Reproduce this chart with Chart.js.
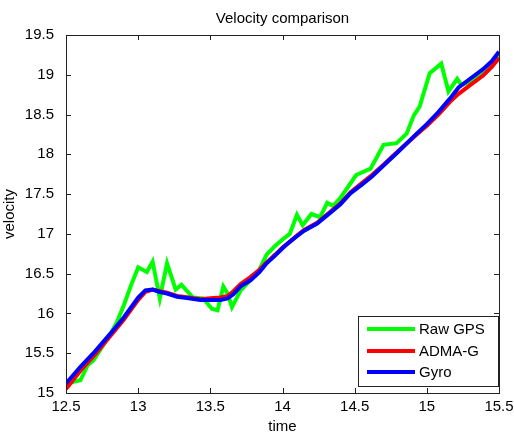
<!DOCTYPE html>
<html>
<head>
<meta charset="utf-8">
<title>Velocity comparison</title>
<script src="https://cdn.jsdelivr.net/npm/chart.js@4.4.7/dist/chart.umd.min.js"></script>
<style>
  html, body { margin: 0; padding: 0; background: #ffffff; }
  #wrap { width: 514px; height: 432px; position: relative; }
</style>
</head>
<body>
<div id="wrap"><canvas id="velocityChart" width="514" height="432"></canvas></div>
<script>
const chartTitle = "Velocity comparison";
const xTitle = "time";
const yTitle = "velocity";

const gpsTime = [12.50, 12.55, 12.60, 12.65, 12.69, 12.75, 12.80, 12.85, 12.90, 12.95, 13.00, 13.06, 13.10, 13.15, 13.20, 13.26, 13.30, 13.38, 13.45, 13.51, 13.55, 13.59, 13.62, 13.65, 13.71, 13.78, 13.84, 13.89, 13.95, 14.00, 14.05, 14.10, 14.14, 14.20, 14.26, 14.31, 14.35, 14.40, 14.45, 14.51, 14.61, 14.70, 14.79, 14.86, 14.91, 14.95, 15.02, 15.10, 15.15, 15.21, 15.24, 15.30, 15.36, 15.42, 15.50];
const gpsVelocity = [15.10, 15.14, 15.16, 15.35, 15.41, 15.58, 15.72, 15.88, 16.10, 16.35, 16.58, 16.52, 16.65, 16.19, 16.63, 16.30, 16.36, 16.20, 16.19, 16.06, 16.04, 16.34, 16.25, 16.08, 16.29, 16.42, 16.55, 16.74, 16.85, 16.93, 17.00, 17.24, 17.11, 17.25, 17.21, 17.39, 17.35, 17.45, 17.58, 17.74, 17.82, 18.12, 18.14, 18.26, 18.49, 18.60, 19.02, 19.14, 18.79, 18.95, 18.87, 18.92, 18.97, 19.05, 19.25];

const refTime = [12.50, 12.60, 12.70, 12.80, 12.90, 13.00, 13.05, 13.10, 13.15, 13.20, 13.27, 13.35, 13.43, 13.50, 13.57, 13.62, 13.66, 13.71, 13.78, 13.84, 13.89, 13.95, 14.00, 14.05, 14.10, 14.15, 14.24, 14.30, 14.40, 14.47, 14.55, 14.62, 14.70, 14.80, 14.93, 15.00, 15.08, 15.16, 15.22, 15.30, 15.39, 15.45, 15.50];
const admaVelocity = [15.05, 15.28, 15.48, 15.70, 15.92, 16.17, 16.27, 16.30, 16.28, 16.26, 16.22, 16.20, 16.18, 16.19, 16.20, 16.22, 16.28, 16.37, 16.46, 16.55, 16.64, 16.74, 16.83, 16.90, 16.98, 17.05, 17.14, 17.23, 17.38, 17.52, 17.64, 17.74, 17.87, 18.04, 18.25, 18.36, 18.50, 18.66, 18.76, 18.87, 18.99, 19.10, 19.21];
const gyroVelocity = [15.12, 15.33, 15.52, 15.73, 15.95, 16.20, 16.29, 16.30, 16.27, 16.25, 16.21, 16.19, 16.17, 16.17, 16.17, 16.19, 16.24, 16.34, 16.42, 16.52, 16.63, 16.73, 16.82, 16.90, 16.97, 17.04, 17.13, 17.22, 17.37, 17.51, 17.62, 17.72, 17.86, 18.03, 18.26, 18.38, 18.53, 18.70, 18.84, 18.95, 19.07, 19.17, 19.29];

const xMin = 12.5;
const xMax = 15.5;
const yMin = 15;
const yMax = 19.5;
const tickStep = 0.5;

function toPoints(times, values) {
  return times.map((t, index) => ({ x: t, y: values[index] }));
}

Chart.defaults.font.family = "'Liberation Sans', Arial, sans-serif";
Chart.defaults.color = "#000000";

const matlabFrame = {
  id: "matlabFrame",
  afterDatasetsDraw(chart) {
    const { ctx, chartArea } = chart;
    const { left, right, top, bottom } = chartArea;
    const tickLen = 5;
    ctx.save();
    ctx.strokeStyle = "#222222";
    ctx.lineWidth = 1;
    ctx.beginPath();
    chart.scales.x.ticks.forEach((tick) => {
      const px = Math.round(chart.scales.x.getPixelForValue(tick.value)) + 0.5;
      ctx.moveTo(px, bottom);
      ctx.lineTo(px, bottom - tickLen);
      ctx.moveTo(px, top);
      ctx.lineTo(px, top + tickLen);
    });
    chart.scales.y.ticks.forEach((tick) => {
      const py = Math.round(chart.scales.y.getPixelForValue(tick.value)) + 0.5;
      ctx.moveTo(left, py);
      ctx.lineTo(left + tickLen, py);
      ctx.moveTo(right, py);
      ctx.lineTo(right - tickLen, py);
    });
    ctx.stroke();
    ctx.strokeRect(Math.round(left) + 0.5, Math.round(top) + 0.5, Math.round(right - left), Math.round(bottom - top));
    ctx.restore();
  },
  afterDraw(chart) {
    const { ctx, chartArea } = chart;
    ctx.save();
    // title centred over the plot box
    ctx.fillStyle = "#000000";
    ctx.font = "15px 'Liberation Sans', Arial, sans-serif";
    ctx.textAlign = "center";
    ctx.textBaseline = "alphabetic";
    ctx.fillText(chartTitle, (chartArea.left + chartArea.right) / 2, 23);

    // legend box, bottom right inside the axes
    const boxW = 140;
    const boxH = 70;
    const boxX = Math.round(chartArea.right) - boxW - 1;
    const boxY = Math.round(chartArea.bottom) - boxH - 7;
    ctx.fillStyle = "#ffffff";
    ctx.fillRect(boxX, boxY, boxW, boxH);
    ctx.strokeStyle = "#222222";
    ctx.lineWidth = 1;
    ctx.strokeRect(boxX + 0.5, boxY + 0.5, boxW, boxH);
    const rowY = [13, 35, 56];
    ctx.textAlign = "left";
    ctx.textBaseline = "middle";
    chart.data.datasets.forEach((dataset, index) => {
      const y = boxY + rowY[index];
      ctx.strokeStyle = dataset.borderColor;
      ctx.lineWidth = 4;
      ctx.beginPath();
      ctx.moveTo(boxX + 9, y);
      ctx.lineTo(boxX + 57, y);
      ctx.stroke();
      ctx.fillStyle = "#000000";
      ctx.fillText(dataset.label, boxX + 61, y + 1);
    });
    ctx.restore();
  },
};

new Chart(document.querySelector("#velocityChart"), {
  type: "line",
  data: {
    datasets: [
      {
        label: "Raw GPS",
        data: toPoints(gpsTime, gpsVelocity),
        borderColor: "#00ff00",
        order: 2,
      },
      {
        label: "ADMA-G",
        data: toPoints(refTime, admaVelocity),
        borderColor: "#ff0000",
        order: 1,
      },
      {
        label: "Gyro",
        data: toPoints(refTime, gyroVelocity),
        borderColor: "#0000ff",
        order: 0,
      },
    ],
  },
  options: {
    responsive: false,
    animation: false,
    events: [],
    clip: 0,
    datasets: {
      line: {
        borderWidth: 4,
        pointRadius: 0,
        tension: 0,
        fill: false,
        clip: 0,
      },
    },
    layout: {
      padding: { top: 35, right: 15, left: 0, bottom: 0 },
    },
    plugins: {
      legend: { display: false },
      title: { display: false },
      tooltip: { enabled: false },
    },
    scales: {
      x: {
        type: "linear",
        min: xMin,
        max: xMax,
        grid: { display: false },
        border: { display: false },
        ticks: {
          stepSize: tickStep,
          padding: -3,
          maxRotation: 0,
          font: { size: 15 },
          color: "#000000",
          callback: (value) => String(value),
        },
        title: {
          display: true,
          text: xTitle,
          font: { size: 15, lineHeight: 1 },
          padding: { top: 0, bottom: -2 },
        },
        afterFit(scale) {
          scale.height = 39;
        },
      },
      y: {
        type: "linear",
        min: yMin,
        max: yMax,
        grid: { display: false },
        border: { display: false },
        ticks: {
          stepSize: tickStep,
          padding: 4,
          font: { size: 15 },
          color: "#000000",
          callback: (value) => String(value),
        },
        title: {
          display: true,
          text: yTitle,
          font: { size: 15, lineHeight: 1 },
          padding: { top: 2, bottom: 0 },
        },
        afterFit(scale) {
          scale.width = 66;
        },
      },
    },
  },
  plugins: [matlabFrame],
});
</script>
</body>
</html>
